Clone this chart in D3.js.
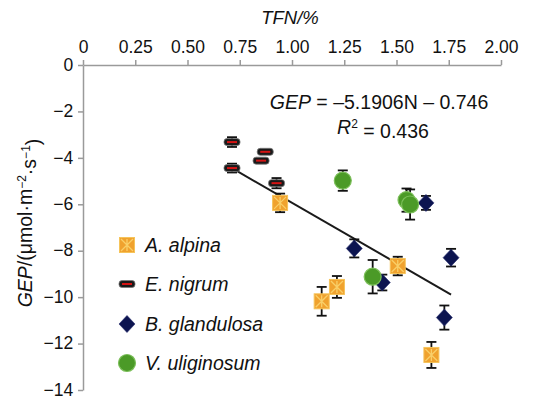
<!DOCTYPE html>
<html><head><meta charset="utf-8">
<script src="https://cdn.jsdelivr.net/npm/d3@7"></script>
<style>body{margin:0;background:#fff}svg{display:block;font-family:"Liberation Sans",Arial,sans-serif}</style>
</head><body><svg id="c" width="534" height="399"></svg>
<script>
const species = ["A. alpina", "E. nigrum", "B. glandulosa", "V. uliginosum"];
const alpinaX = [0.943, 1.215, 1.142, 1.506, 1.667];
const alpinaY = [-5.94, -9.56, -10.18, -8.66, -12.49];
const alpinaErr = [0.40, 0.47, 0.62, 0.40, 0.56];
const nigrumX = [0.713, 0.713, 0.872, 0.852, 0.926];
const nigrumY = [-3.32, -4.44, -3.74, -4.12, -5.09];
const nigrumErr = [0.21, 0.19, 0.05, 0.05, 0.22];
const glandX = [1.298, 1.432, 1.641, 1.761, 1.729];
const glandY = [-7.90, -9.37, -5.94, -8.30, -10.88];
const glandErr = [0.39, 0.34, 0.30, 0.38, 0.52];
const uligX = [1.243, 1.386, 1.548, 1.565];
const uligY = [-4.98, -9.12, -5.82, -6.01];
const uligErr = [0.44, 0.72, 0.50, 0.65];
const xTicks = [0, 0.25, 0.5, 0.75, 1, 1.25, 1.5, 1.75, 2];
const xTickLabels = ["0", "0.25", "0.50", "0.75", "1.00", "1.25", "1.50", "1.75", "2.00"];
const yTicks = [0, -2, -4, -6, -8, -10, -12, -14];
const yTickLabels = ["0", "\u22122", "\u22124", "\u22126", "\u22128", "\u221210", "\u221212", "\u221214"];
const slope = -5.1906, intercept = -0.746;

const svg = d3.select("#c");
const L = 83, R = 501, T = 65, B = 390;
const x = d3.scaleLinear().domain([0, 2]).range([L, R]);
const y = d3.scaleLinear().domain([0, -14]).range([T, B]);

// axes
const xa = svg.append("g").attr("transform", `translate(0,${T})`)
  .call(d3.axisTop(x).tickValues(xTicks).tickFormat((d, i) => xTickLabels[i]).tickSize(5).tickSizeOuter(0));
const ya = svg.append("g").attr("transform", `translate(${L},0)`)
  .call(d3.axisLeft(y).tickValues(yTicks).tickFormat((d, i) => yTickLabels[i]).tickSize(5).tickSizeOuter(0));
[xa, ya].forEach(a => {
  a.selectAll("path,line").attr("stroke", "#9a9a9a").attr("stroke-width", 1.5);
  a.selectAll("text").attr("fill", "#111").style("font-size", "17.5px").style("font-family", '"Liberation Sans",Arial,sans-serif');
});
xa.selectAll("text").attr("dy", "-0.25em");
ya.selectAll("text").attr("dx", "-0.1em").attr("dy", "0.3em");

// axis titles
svg.append("text").attr("x", 290).attr("y", 24).attr("text-anchor", "middle")
  .style("font-size", "18.5px").style("font-style", "italic").attr("fill", "#111").text("TFN/%");
const yl = svg.append("text").attr("transform", "translate(32,223) rotate(-90)").attr("text-anchor", "middle")
  .style("font-size", "19.5px").attr("fill", "#111");
yl.append("tspan").style("font-style", "italic").text("GEP");
yl.append("tspan").text("/(\u03bcmol\u00b7m");
yl.append("tspan").attr("dy", "-0.5em").style("font-size", "12px").text("\u22122");
yl.append("tspan").attr("dy", "0.5em").text("\u00b7s");
yl.append("tspan").attr("dy", "-0.5em").style("font-size", "12px").text("\u22121");
yl.append("tspan").attr("dy", "0.5em").text(")");

// regression line
const allX = alpinaX.concat(nigrumX, glandX, uligX);
const xr = d3.extent(allX);
svg.append("line").attr("x1", x(xr[0])).attr("y1", y(slope * xr[0] + intercept))
  .attr("x2", x(xr[1])).attr("y2", y(slope * xr[1] + intercept))
  .attr("stroke", "#1a1a1a").attr("stroke-width", 2);

// equation
const eq = svg.append("text").attr("x", 379).attr("y", 109).attr("text-anchor", "middle")
  .style("font-size", "19.5px").attr("fill", "#111");
eq.append("tspan").style("font-style", "italic").text("GEP");
eq.append("tspan").text(" = \u20135.1906N \u2013 0.746");
const r2 = svg.append("text").attr("x", 383).attr("y", 134).attr("text-anchor", "middle")
  .style("font-size", "19.5px").attr("fill", "#111");
r2.append("tspan").style("font-style", "italic").text("R");
r2.append("tspan").attr("dy", "-0.5em").style("font-size", "12px").text("2");
r2.append("tspan").attr("dy", "0.5em").text(" = 0.436");

// markers
function drawMarker(g, k) {
  if (k === 0) {
    g.append("rect").attr("x", -7.5).attr("y", -7.5).attr("width", 15).attr("height", 15)
      .attr("fill", "#F0A22E").attr("stroke", "#F6C45A").attr("stroke-width", 1);
    const p = "M-6,-6L6,6M6,-6L-6,6M0,-6L0,6";
    g.append("path").attr("d", p).attr("stroke", "#F9CF68").attr("stroke-width", 1.3).attr("fill", "none");
  } else if (k === 1) {
    g.append("rect").attr("x", -8).attr("y", -3.5).attr("width", 16).attr("height", 7).attr("rx", 3)
      .attr("fill", "#1a1a1a").attr("stroke", "#777").attr("stroke-width", 0.8);
    g.append("line").attr("x1", -5).attr("x2", 5).attr("y1", 0).attr("y2", 0)
      .attr("stroke", "#D41414").attr("stroke-width", 2);
  } else if (k === 2) {
    g.append("path").attr("d", "M0,-8.5L8,0L0,8.5L-8,0Z").attr("fill", "#0C1450").attr("stroke", "#2a3070").attr("stroke-width", 0.6);
  } else {
    g.append("circle").attr("r", 8.5).attr("fill", "#4B9A27").attr("stroke", "#7CBF5A").attr("stroke-width", 1.2);
  }
}

const series = [
  [alpinaX, alpinaY, alpinaErr],
  [nigrumX, nigrumY, nigrumErr],
  [glandX, glandY, glandErr],
  [uligX, uligY, uligErr]
];
// error bars
series.forEach((s) => {
  s[0].forEach((xv, i) => {
    const g = svg.append("g");
    const cx = x(xv), y1 = y(s[1][i] + s[2][i]), y2 = y(s[1][i] - s[2][i]);
    g.append("line").attr("x1", cx).attr("x2", cx).attr("y1", y1).attr("y2", y2).attr("stroke", "#111").attr("stroke-width", 1.8);
    [y1, y2].forEach(yy => g.append("line").attr("x1", cx - 5).attr("x2", cx + 5).attr("y1", yy).attr("y2", yy).attr("stroke", "#111").attr("stroke-width", 1.8));
  });
});
series.forEach((s, k) => {
  s[0].forEach((xv, i) => {
    const g = svg.append("g").attr("transform", `translate(${x(xv)},${y(s[1][i])})`);
    drawMarker(g, k);
  });
});

// legend
const legY = [245, 284, 324, 363];
species.forEach((name, k) => {
  const g = svg.append("g").attr("transform", `translate(127,${legY[k]})`);
  drawMarker(g, k);
  svg.append("text").attr("x", 145).attr("y", legY[k] + 7).style("font-size", "19.5px").style("font-style", "italic")
    .attr("fill", "#111").text(name);
});
</script></body></html>
